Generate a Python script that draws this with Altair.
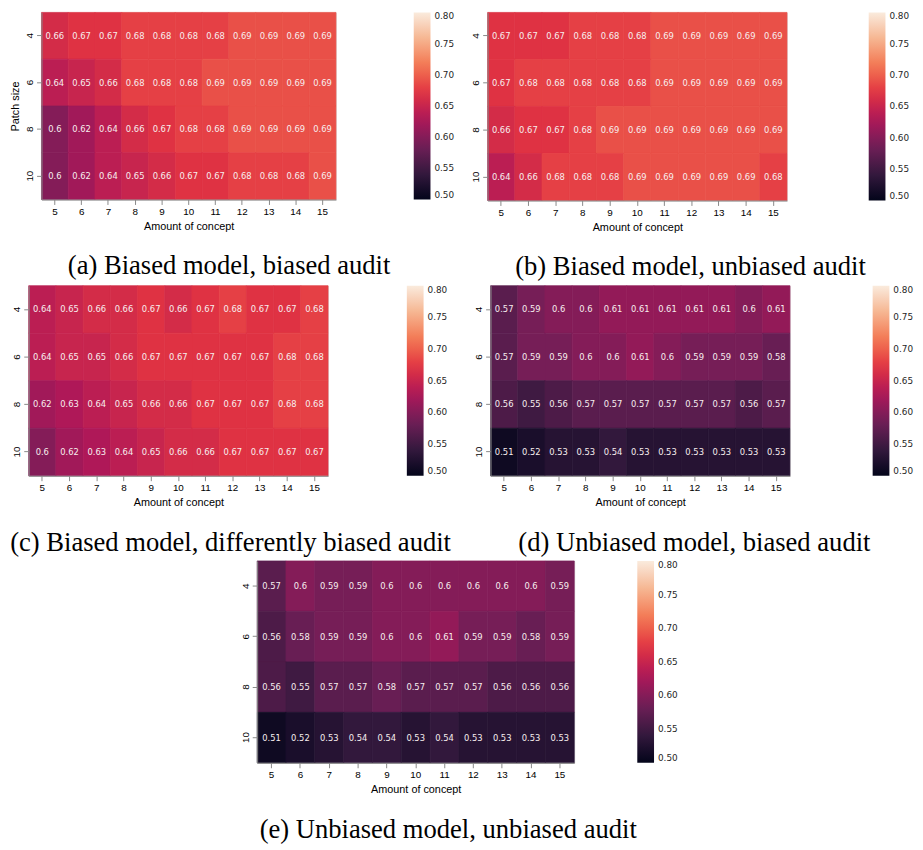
import altair as alt
import pandas as pd

concept = [5, 6, 7, 8, 9, 10, 11, 12, 13, 14, 15]
patch = [4, 6, 8, 10]

vals_a = [
    [0.66, 0.67, 0.67, 0.68, 0.68, 0.68, 0.68, 0.69, 0.69, 0.69, 0.69],
    [0.64, 0.65, 0.66, 0.68, 0.68, 0.68, 0.69, 0.69, 0.69, 0.69, 0.69],
    [0.60, 0.62, 0.64, 0.66, 0.67, 0.68, 0.68, 0.69, 0.69, 0.69, 0.69],
    [0.60, 0.62, 0.64, 0.65, 0.66, 0.67, 0.67, 0.68, 0.68, 0.68, 0.69],
]
vals_b = [
    [0.67, 0.67, 0.67, 0.68, 0.68, 0.68, 0.69, 0.69, 0.69, 0.69, 0.69],
    [0.67, 0.68, 0.68, 0.68, 0.68, 0.68, 0.69, 0.69, 0.69, 0.69, 0.69],
    [0.66, 0.67, 0.67, 0.68, 0.69, 0.69, 0.69, 0.69, 0.69, 0.69, 0.69],
    [0.64, 0.66, 0.68, 0.68, 0.68, 0.69, 0.69, 0.69, 0.69, 0.69, 0.68],
]
vals_c = [
    [0.64, 0.65, 0.66, 0.66, 0.67, 0.66, 0.67, 0.68, 0.67, 0.67, 0.68],
    [0.64, 0.65, 0.65, 0.66, 0.67, 0.67, 0.67, 0.67, 0.67, 0.68, 0.68],
    [0.62, 0.63, 0.64, 0.65, 0.66, 0.66, 0.67, 0.67, 0.67, 0.68, 0.68],
    [0.60, 0.62, 0.63, 0.64, 0.65, 0.66, 0.66, 0.67, 0.67, 0.67, 0.67],
]
vals_d = [
    [0.57, 0.59, 0.60, 0.60, 0.61, 0.61, 0.61, 0.61, 0.61, 0.60, 0.61],
    [0.57, 0.59, 0.59, 0.60, 0.60, 0.61, 0.60, 0.59, 0.59, 0.59, 0.58],
    [0.56, 0.55, 0.56, 0.57, 0.57, 0.57, 0.57, 0.57, 0.57, 0.56, 0.57],
    [0.51, 0.52, 0.53, 0.53, 0.54, 0.53, 0.53, 0.53, 0.53, 0.53, 0.53],
]
vals_e = [
    [0.57, 0.60, 0.59, 0.59, 0.60, 0.60, 0.60, 0.60, 0.60, 0.60, 0.59],
    [0.56, 0.58, 0.59, 0.59, 0.60, 0.60, 0.61, 0.59, 0.59, 0.58, 0.59],
    [0.56, 0.55, 0.57, 0.57, 0.58, 0.57, 0.57, 0.57, 0.56, 0.56, 0.56],
    [0.51, 0.52, 0.53, 0.54, 0.54, 0.53, 0.54, 0.53, 0.53, 0.53, 0.53],
]

captions = [
    "(a) Biased model, biased audit",
    "(b) Biased model, unbiased audit",
    "(c) Biased model, differently biased audit",
    "(d) Unbiased model, biased audit",
    "(e) Unbiased model, unbiased audit",
]

colorbar_ticks = [0.50, 0.55, 0.60, 0.65, 0.70, 0.75, 0.80]

# seaborn "rocket" colormap stops
rocket = ["#03051a", "#35193e", "#701f57", "#ad1759",
          "#e13342", "#f37651", "#f6b48f", "#faebdd"]
vmin, vmax = 0.5, 0.8
stops = [vmin + (vmax - vmin) * i / 7 for i in range(8)]

TXT = "#262626"


def panel(vals, caption, w, h, ytitle, legend_offset, dx):
    rows = []
    for p, row in zip(patch, vals):
        for c, v in zip(concept, row):
            rows.append({"patch": p, "concept": c, "value": v})
    df = pd.DataFrame(rows)
    scale = alt.Scale(domain=stops, range=rocket, interpolate="rgb")
    base = alt.Chart(df).encode(
        x=alt.X("concept:O", sort=concept, title="Amount of concept",
                scale=alt.Scale(paddingInner=0, paddingOuter=0),
                axis=alt.Axis(labelAngle=0, titleFontWeight="normal")),
        y=alt.Y("patch:O", sort=patch, title=ytitle,
                scale=alt.Scale(paddingInner=0, paddingOuter=0),
                axis=alt.Axis(labelAngle=-90, labelAlign="center",
                              labelBaseline="bottom", titleFontWeight="normal",
                              minExtent=0)),
    )
    heat = base.mark_rect(strokeWidth=0.7).encode(
        color=alt.Color(
            "value:Q", scale=scale,
            legend=alt.Legend(
                title=None, orient="right", offset=legend_offset, padding=0,
                gradientLength=h, gradientThickness=17,
                values=colorbar_ticks, format=".2f",
                labelFont="DejaVu Sans", labelFontSize=9, labelColor=TXT,
                labelOffset=4, labelBaseline="middle", labelOverlap=False,
                gradientStrokeWidth=0, direction="vertical",
            ),
        ),
        stroke=alt.Stroke("value:Q", scale=scale, legend=None),
    )
    txt = base.mark_text(color="#f7eeee", fontSize=8.5, font="DejaVu Sans").encode(
        text=alt.Text("value:Q", format=".2~g")
    )
    return alt.layer(heat, txt).properties(
        width=w, height=h,
        title=alt.TitleParams(caption, orient="bottom", frame="group",
                              anchor="middle", font="Liberation Serif",
                              fontSize=27, fontWeight="normal", color="black",
                              offset=23, dx=dx),
    ).resolve_scale(color="independent")


def spacer(w):
    # empty, invisible view used only to indent a row of the figure
    return alt.Chart(pd.DataFrame({"v": [0]})).mark_rule(opacity=0, strokeWidth=0).encode(
        x=alt.value(0), x2=alt.value(0), y=alt.value(0), y2=alt.value(0)
    ).properties(width=w, height=1,
                 view=alt.ViewBackground(stroke="transparent", strokeWidth=0,
                                         fill="transparent"))


def ind(ch):
    return ch.resolve_scale(color="independent", stroke="independent").resolve_legend(color="independent")


pa = panel(vals_a, captions[0], 299, 190, "Patch size", 79, 41)
pb = panel(vals_b, captions[1], 304, 191, None, 83, 54)
pc = panel(vals_c, captions[2], 304, 193, None, 80, 53)
pd_ = panel(vals_d, captions[3], 304, 193, None, 84, 55)
pe = panel(vals_e, captions[4], 322, 205, None, 64, 33)

row1 = ind(alt.hconcat(spacer(1), ind(alt.hconcat(pa, pb, spacing=14)), spacing=0))
row2 = ind(alt.hconcat(spacer(1), ind(alt.hconcat(pc, pd_, spacing=21)), spacing=0))
row3 = ind(alt.hconcat(spacer(235), pe, spacing=0))

chart = ind(alt.vconcat(row1, row2, row3, spacing=3.5)).properties(
    padding={"left": 0, "top": -3, "right": 0, "bottom": -2}
).configure_view(strokeWidth=0, stroke="transparent").configure_axis(
    domain=False, grid=False, tickColor=TXT, tickSize=3.5, tickWidth=0.8,
    labelColor=TXT, titleColor=TXT, labelFont="DejaVu Sans",
    titleFont="DejaVu Sans", labelFontSize=9, titleFontSize=9,
    titleFontWeight="normal", labelPadding=2, titlePadding=3,
).configure(background="white")

chart.save("out.html", embed_options={"renderer": "svg", "actions": False})
